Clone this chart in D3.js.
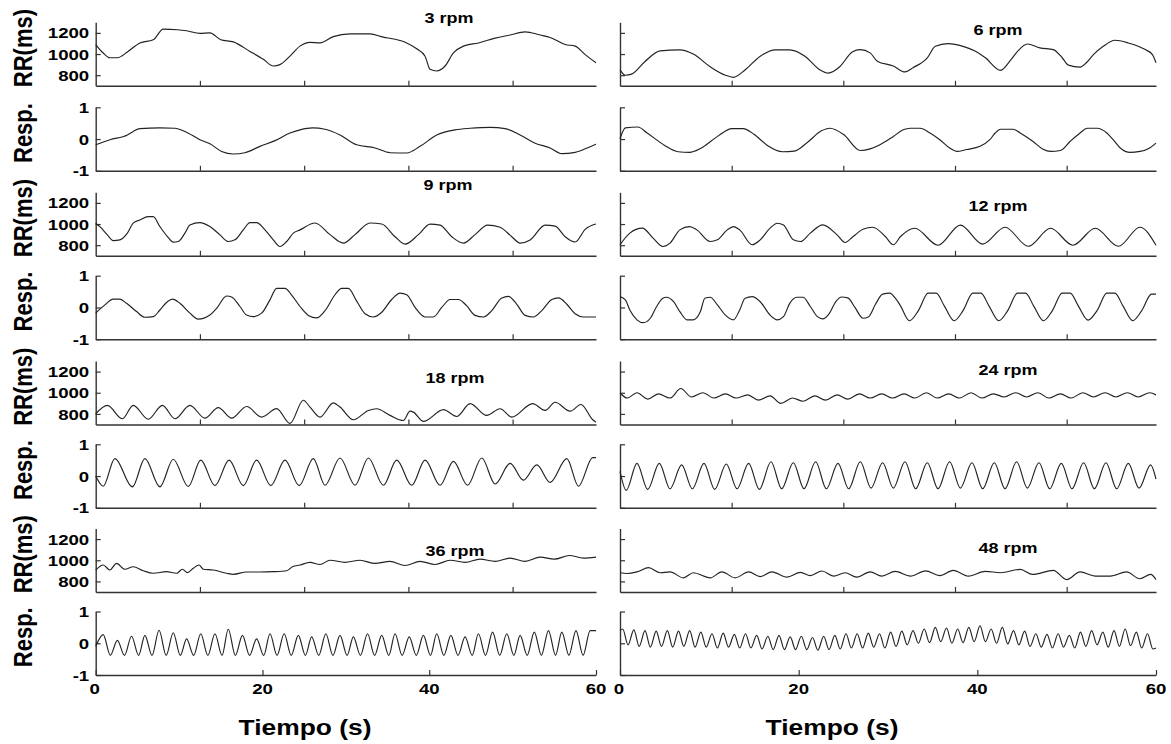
<!DOCTYPE html>
<html><head><meta charset="utf-8">
<script src="https://cdn.jsdelivr.net/npm/d3@7"></script>
<style>body{margin:0;background:#fff}svg text{font-family:"Liberation Sans",Arial,sans-serif;font-weight:bold;fill:#000}</style>
</head><body>
<svg id="c" width="1171" height="744"></svg>
<script>
// ---------- data: [time (s), value] ----------
const rr3=[[0,1090],[0.9,1010],[1.7,965],[2.6,965],[3.8,1020],[5.3,1105],[6.9,1135],[8.1,1235],[9.8,1230],[10.9,1220],[12.5,1195],[13.7,1200],[15.0,1135],[16.5,1115],[18.5,1025],[20.1,950],[21.3,887],[22.1,900],[23.3,980],[24.5,1075],[25.7,1110],[26.9,1105],[28.5,1165],[30.5,1190],[32.9,1190],[34.5,1160],[35.9,1140],[37.3,1105],[38.5,1050],[39.5,980],[40.1,856],[40.9,840],[41.9,887],[42.9,1010],[44.1,1075],[45.9,1105],[47.9,1150],[49.7,1180],[51.5,1210],[53.3,1180],[54.5,1157],[56.3,1090],[57.5,1075],[58.7,995],[60,918]];
const resp3=[[0,-0.18],[1.7,-0.02],[3.8,0.13],[4.5,0.24],[5.3,0.33],[7.7,0.35],[9.5,0.34],[10.7,0.24],[12.5,-0.02],[13.7,-0.15],[15.1,-0.39],[16.5,-0.47],[17.9,-0.43],[19.7,-0.23],[21.5,-0.05],[23.3,0.19],[24.5,0.29],[26.0,0.35],[27.5,0.31],[29.3,0.13],[31.3,-0.18],[33.5,-0.28],[35.3,-0.43],[37.3,-0.44],[38.9,-0.23],[40.9,0.13],[43.1,0.29],[44.9,0.34],[47.3,0.37],[49.1,0.33],[50.9,0.13],[52.7,-0.13],[54.5,-0.28],[55.9,-0.46],[57.5,-0.42],[59.3,-0.24],[60,-0.16]];
const rr6=[[0,850],[0.6,800],[1.3,810],[2.8,930],[4.5,1030],[6.7,1040],[8.2,1000],[10.1,880],[11.8,800],[12.7,780],[14.0,850],[15.7,980],[17.4,1040],[19.0,1040],[20.7,980],[22.4,850],[23.3,820],[24.6,880],[26.0,1020],[26.9,1042],[28.0,1011],[28.8,933],[30.6,887],[31.9,831],[32.8,871],[34.4,965],[35.3,1073],[36.7,1098],[38.4,1073],[39.8,1026],[40.9,965],[42.6,846],[43.7,940],[44.5,1026],[45.6,1095],[47.0,1058],[48.5,1042],[49.5,965],[50.2,895],[51.5,877],[52.2,918],[53.0,995],[54.1,1073],[55.4,1130],[56.9,1105],[58.8,1042],[59.6,995],[60,918]];
const resp6=[[0,0.0],[0.6,0.35],[2.0,0.38],[3.0,0.2],[5.0,-0.2],[6.5,-0.4],[7.8,-0.42],[9.0,-0.3],[11,0.1],[12.5,0.33],[13.8,0.33],[15,0.15],[16.5,-0.2],[18.2,-0.4],[19.5,-0.38],[21,-0.1],[22.5,0.25],[23.5,0.34],[25,0.15],[26.9,-0.36],[28.0,-0.31],[29.1,-0.18],[30.6,0.08],[31.7,0.29],[32.5,0.34],[33.6,0.34],[34.7,0.19],[35.8,-0.02],[36.9,-0.28],[37.7,-0.39],[38.8,-0.33],[40.3,-0.23],[41.4,-0.02],[42.0,0.19],[42.6,0.31],[44.0,0.31],[44.8,0.19],[46.2,-0.07],[47.3,-0.31],[48.2,-0.39],[49.3,-0.36],[50.4,-0.07],[51.5,0.19],[52.3,0.34],[53.4,0.34],[54.5,0.19],[55.2,-0.02],[56,-0.28],[57.1,-0.42],[58.2,-0.39],[59.3,-0.28],[60,-0.13]];
const rr9=[[0,1008],[0.5,976],[1.4,898],[2.1,844],[2.9,851],[3.8,914],[4.5,1008],[5.3,1039],[6.3,1070],[6.9,1070],[7.7,976],[8.6,882],[9.3,829],[9.9,835],[10.7,914],[11.3,992],[12.5,1014],[13.7,976],[14.9,898],[15.9,835],[16.7,851],[17.7,945],[18.5,1014],[19.3,1014],[20.3,945],[21.3,851],[22.1,788],[22.9,835],[23.7,914],[24.5,945],[26.3,1010],[28.1,900],[29.7,820],[31.1,900],[32.9,1010],[34.3,1000],[35.9,880],[37.1,810],[38.7,900],[40.1,1000],[41.3,990],[42.7,880],[44.1,820],[45.5,900],[47.0,990],[48.5,970],[49.9,880],[50.9,820],[52.1,850],[53.9,990],[55.1,980],[56.3,880],[57.5,830],[58.7,950],[60,1000]];
const resp9=[[0,-0.18],[1.1,0.08],[2.1,0.26],[2.9,0.26],[3.7,0.13],[4.9,-0.13],[5.9,-0.31],[6.9,-0.29],[7.7,-0.08],[8.6,0.18],[9.2,0.26],[10.1,0.13],[11.3,-0.18],[12.3,-0.37],[13.7,-0.24],[14.5,-0.03],[15.7,0.36],[16.3,0.33],[17.3,0.03],[18.1,-0.24],[18.9,-0.29],[19.9,-0.18],[20.9,0.24],[21.7,0.60],[22.7,0.60],[23.5,0.39],[24.5,0.03],[25.5,-0.25],[26.5,-0.33],[27.5,-0.1],[28.7,0.4],[29.5,0.6],[30.3,0.6],[31.3,0.2],[32.3,-0.2],[33.3,-0.3],[34.3,-0.15],[35.5,0.25],[36.5,0.45],[37.3,0.4],[38.3,0.0],[39.5,-0.3],[40.5,-0.3],[41.5,0],[42.5,0.25],[43.5,0.25],[44.5,0.05],[45.5,-0.25],[46.5,-0.3],[47.5,-0.1],[48.7,0.3],[49.5,0.35],[50.5,0.1],[51.5,-0.25],[52.5,-0.3],[53.5,-0.1],[54.7,0.25],[55.5,0.3],[56.5,0.1],[57.5,-0.2],[58.5,-0.3],[60,-0.3]];
const rr12=[[0,804],[1.1,914],[2.5,961],[3.7,867],[4.8,788],[5.6,820],[6.7,945],[7.8,976],[8.6,945],[10.1,835],[10.9,851],[12.0,945],[12.7,976],[13.4,945],[14.8,804],[15.7,851],[16.8,961],[17.6,1008],[18.3,992],[19.4,851],[20.2,835],[21.3,914],[22.7,992],[24.3,898],[25.2,826],[26.1,882],[27.2,951],[28.3,970],[29.7,882],[30.6,804],[31.4,882],[33.0,960],[35.6,800],[38.1,990],[40.6,810],[43.1,970],[45.7,790],[48.2,960],[50.7,800],[53.2,960],[55.8,790],[58.2,970],[60,800]];
const resp12=[[0,0.34],[0.6,0.24],[1.1,-0.08],[1.9,-0.39],[2.6,-0.48],[3.4,-0.34],[4.1,0.03],[4.8,0.29],[5.2,0.32],[6.0,0.18],[6.7,-0.13],[7.5,-0.39],[8.2,-0.39],[9.0,-0.13],[9.5,0.29],[10.1,0.32],[10.9,0.08],[11.8,-0.24],[12.7,-0.39],[13.4,-0.08],[14.0,0.29],[14.8,0.34],[15.7,0.18],[16.8,-0.24],[17.6,-0.39],[18.3,-0.29],[19.0,0.13],[19.8,0.32],[20.5,0.32],[21.3,0.03],[22.1,-0.29],[22.7,-0.36],[23.4,-0.2],[24.2,0.2],[24.8,0.33],[25.5,0.3],[26.3,0.0],[27.2,-0.34],[27.8,-0.3],[28.6,0.1],[29.4,0.42],[30.2,0.45],[30.8,0.3],[31.4,0.05],[32.4,-0.42],[33.4,-0.1],[34.5,0.45],[35.4,0.45],[36.3,0.05],[37.4,-0.42],[38.4,-0.1],[39.5,0.45],[40.4,0.45],[41.3,0.05],[42.4,-0.42],[43.4,-0.1],[44.5,0.45],[45.4,0.45],[46.3,0.05],[47.4,-0.42],[48.4,-0.1],[49.5,0.45],[50.4,0.45],[51.3,0.05],[52.4,-0.4],[53.4,-0.1],[54.5,0.45],[55.4,0.45],[56.3,0.05],[57.4,-0.42],[58.4,-0.1],[59.5,0.42],[60,0.42]];
const rr18=[[0,801],[1.4,881],[3.2,754],[4.5,881],[6.3,750],[8.0,881],[9.5,754],[11.3,881],[13.1,760],[14.7,860],[16.3,760],[18.1,870],[19.9,770],[21.7,850],[23.3,710],[24.9,929],[25.7,865],[26.9,770],[28.5,905],[29.3,865],[30.9,745],[32.7,833],[33.7,849],[35.3,786],[36.9,738],[37.7,826],[38.1,817],[39.3,729],[41.7,840],[43.3,776],[44.9,897],[46.9,786],[48.5,849],[49.9,770],[52.4,897],[53.9,833],[55.1,910],[56.9,826],[58.2,889],[59.6,745],[60,722]];
const resp18=[[0,0.0],[0.9,-0.32],[2.3,0.55],[4.4,-0.34],[5.9,0.55],[7.7,-0.34],[9.3,0.53],[11.1,-0.33],[12.6,0.5],[14.3,-0.3],[16.0,0.5],[17.7,-0.3],[19.3,0.5],[21.0,-0.3],[22.7,0.5],[24.4,-0.3],[26.1,0.55],[27.5,-0.29],[29.3,0.57],[31.1,-0.29],[32.7,0.57],[34.5,-0.29],[36.1,0.5],[37.9,-0.29],[39.5,0.5],[41.3,-0.29],[42.9,0.46],[44.6,-0.29],[46.3,0.57],[47.9,-0.25],[49.7,0.4],[51.3,-0.13],[52.9,0.35],[54.5,-0.2],[56.5,0.55],[57.9,-0.32],[59.6,0.58],[60,0.58]];
const rr24=[[0,1000],[0.8,950],[1.9,1000],[3.1,940],[4.3,990],[5.6,950],[6.8,1040],[8.0,960],[9.3,1000],[10.5,950],[11.8,990],[13.0,950],[14.3,980],[15.5,930],[16.8,970],[18.0,900],[19.3,950],[20.5,920],[21.8,970],[23.0,930],[24.3,980],[25.5,940],[26.8,990],[28.0,950],[29.3,990],[30.5,950],[31.8,990],[33.0,950],[34.3,1000],[35.5,950],[36.8,990],[38.0,950],[39.3,1000],[40.5,950],[41.8,990],[43.0,960],[44.3,1000],[45.5,960],[46.8,1000],[48.0,950],[49.3,990],[50.5,950],[51.8,1000],[53.0,960],[54.3,1000],[55.5,960],[56.8,1000],[58.0,960],[59.3,1000],[60,980]];
const resp24=[[0,0.15],[0.7,-0.45],[1.9,0.4],[3.1,-0.42],[4.4,0.4],[5.6,-0.4],[6.9,0.35],[8.1,-0.4],[9.4,0.4],[10.6,-0.42],[11.9,0.38],[13.1,-0.4],[14.4,0.4],[15.6,-0.42],[16.9,0.45],[18.1,-0.4],[19.4,0.42],[20.6,-0.4],[21.9,0.45],[23.1,-0.4],[24.4,0.4],[25.6,-0.4],[26.9,0.45],[28.1,-0.38],[29.4,0.42],[30.6,-0.38],[31.9,0.45],[33.1,-0.4],[34.4,0.42],[35.6,-0.4],[36.9,0.45],[38.1,-0.38],[39.4,0.42],[40.6,-0.4],[41.9,0.42],[43.1,-0.4],[44.4,0.45],[45.6,-0.38],[46.9,0.42],[48.1,-0.4],[49.4,0.4],[50.6,-0.4],[51.9,0.42],[53.1,-0.4],[54.4,0.42],[55.6,-0.4],[56.9,0.4],[58.1,-0.38],[59.4,0.35],[60,-0.1]];
const rr36=[[0,908],[0.9,955],[1.7,908],[2.5,971],[3.5,915],[4.5,939],[5.7,901],[6.9,877],[8.5,892],[9.7,877],[10.4,915],[11.0,883],[11.7,924],[12.4,955],[12.9,915],[14.1,908],[15.7,877],[16.5,867],[18.1,889],[19.7,889],[21.3,892],[22.9,901],[23.6,939],[24.5,955],[25.7,980],[26.9,960],[28.1,1000],[29.9,980],[31.7,1000],[33.5,970],[35.3,990],[37.1,950],[38.9,990],[40.7,960],[42.5,1000],[44.3,980],[46.1,1010],[47.9,990],[49.7,1020],[51.5,990],[53.3,1030],[55.0,1010],[56.8,1045],[58.5,1020],[60,1030]];
const resp36=[[0,-0.1],[0.9,0.27],[1.75,-0.38],[2.6,0.09],[3.45,-0.38],[4.3,0.22],[5.15,-0.38],[5.9,0.25],[6.75,-0.38],[7.6,0.41],[8.45,-0.38],[9.3,0.33],[10.15,-0.38],[10.9,0.14],[11.75,-0.38],[12.6,0.3],[13.45,-0.38],[14.3,0.3],[15.15,-0.38],[15.9,0.44],[16.75,-0.38],[17.6,0.25],[18.45,-0.38],[19.3,0.14],[20.15,-0.38],[20.9,0.3],[21.75,-0.38],[22.6,0.3],[23.45,-0.38],[24.3,0.25],[25.15,-0.38],[25.9,0.2],[26.75,-0.38],[27.6,0.3],[28.45,-0.38],[29.3,0.25],[30.15,-0.38],[30.9,0.2],[31.75,-0.38],[32.6,0.3],[33.45,-0.38],[34.3,0.25],[35.15,-0.38],[35.9,0.3],[36.75,-0.38],[37.6,0.2],[38.45,-0.38],[39.3,0.25],[40.15,-0.38],[40.9,0.3],[41.75,-0.38],[42.6,0.25],[43.45,-0.38],[44.3,0.2],[45.15,-0.38],[45.9,0.3],[46.75,-0.38],[47.6,0.35],[48.45,-0.38],[49.3,0.3],[50.15,-0.38],[50.9,0.25],[51.75,-0.38],[52.6,0.35],[53.45,-0.38],[54.3,0.4],[55.15,-0.38],[55.9,0.35],[56.75,-0.38],[57.6,0.4],[58.45,-0.38],[59.3,0.4],[60,0.4]];
const rr48=[[0,882],[0.75,875],[1.9,890],[3.2,930],[4.5,882],[5.6,890],[7.1,834],[8.2,882],[10.1,834],[11.4,890],[12.9,834],[14.4,890],[15.7,845],[17.0,890],[18.7,840],[20.2,885],[21.3,855],[22.6,898],[23.9,850],[25.2,882],[26.5,840],[28,890],[29.3,850],[30.8,895],[32.5,850],[34.2,900],[35.8,855],[37.3,905],[39.0,850],[40.9,895],[42.6,882],[44.8,914],[46.2,866],[48.5,905],[50.0,817],[51.5,890],[53.2,850],[54.9,850],[56.7,890],[58.2,825],[59.4,866],[60,817]];
const resp48=[[0,0.4],[0.3,0.45],[0.9,-0.05],[1.55,0.42],[2.15,-0.1],[2.8,0.4],[3.4,-0.12],[4.05,0.38],[4.65,-0.1],[5.3,0.4],[5.9,-0.12],[6.55,0.38],[7.15,-0.1],[7.8,0.4],[8.4,-0.12],[9.05,0.35],[9.65,-0.12],[10.3,0.3],[10.9,-0.15],[11.55,0.32],[12.15,-0.12],[12.8,0.28],[13.4,-0.15],[14.05,0.3],[14.65,-0.15],[15.3,0.25],[15.9,-0.18],[16.55,0.22],[17.15,-0.2],[17.8,0.25],[18.4,-0.2],[19.05,0.2],[19.65,-0.2],[20.3,0.22],[20.9,-0.2],[21.55,0.18],[22.15,-0.22],[22.8,0.22],[23.4,-0.2],[24.05,0.25],[24.65,-0.18],[25.3,0.3],[25.9,-0.15],[26.55,0.3],[27.15,-0.15],[27.8,0.32],[28.4,-0.12],[29.05,0.3],[29.65,-0.15],[30.3,0.35],[30.9,-0.1],[31.55,0.38],[32.15,-0.05],[32.8,0.4],[33.4,0.0],[34.05,0.45],[34.65,0.02],[35.3,0.5],[35.9,0.05],[36.55,0.48],[37.15,0.0],[37.8,0.45],[38.4,0.02],[39.05,0.5],[39.65,0.05],[40.3,0.55],[40.9,0.05],[41.55,0.45],[42.15,0.0],[42.8,0.5],[43.4,-0.02],[44.05,0.4],[44.65,-0.05],[45.3,0.38],[45.9,-0.1],[46.55,0.3],[47.15,-0.12],[47.8,0.28],[48.4,-0.15],[49.05,0.3],[49.65,-0.12],[50.3,0.25],[50.9,-0.15],[51.55,0.35],[52.15,-0.1],[52.8,0.4],[53.4,-0.05],[54.05,0.35],[54.65,-0.12],[55.3,0.4],[55.9,-0.1],[56.55,0.45],[57.15,-0.08],[57.8,0.35],[58.4,-0.15],[59.05,0.3],[59.65,-0.18],[60,-0.15]];

const rrTicks=[800,1000,1200];
const respTicks=[-1,0,1];
const xTicksBottom=[0,20,40,60];
const xTicksInner=[12.5,25,37.5,50];
const titlesLeft=["3 rpm","9 rpm","18 rpm","36 rpm"];
const titlesRight=["6 rpm","12 rpm","24 rpm","48 rpm"];
const yLabels=["RR(ms)","Resp."];
const xLabel="Tiempo (s)";

// ---------- layout ----------
const colX=[[95.7,596],[620,1156]];
const rowTop=[22.3,107.3,192.3,275.7,361,444.3,528.5,611.5];
const panelH=63.5;
const titlePos=[[[449,23],[448,190],[455,383],[455,556]],[[998,35],[998,211],[1008,375],[1008,553]]];
const SX=1.2; // horizontal stretch of the original text

const svg=d3.select("#c");
const series=[[rr3,resp3,rr9,resp9,rr18,resp18,rr36,resp36],[rr6,resp6,rr12,resp12,rr24,resp24,rr48,resp48]];

function stext(g,x,y,txt,size,anchor,rot){
  return g.append("text").attr("font-size",size).attr("text-anchor",anchor||"middle")
    .attr("transform",`translate(${x},${y}) scale(${SX},1)`+(rot?` rotate(${rot})`:""))
    .text(txt);
}

for(let c=0;c<2;c++){
  for(let r=0;r<8;r++){
    const isRR=r%2===0;
    const top=rowTop[r], bot=top+panelH;
    const x=d3.scaleLinear().domain([0,60]).range(colX[c]);
    const y=d3.scaleLinear().domain(isRR?[700,1300]:[-1,1]).range([bot,top]);
    const g=svg.append("g");
    const last=(r===7);
    const xa=d3.axisBottom(x).tickValues(last?xTicksBottom:xTicksInner).tickSizeInner(-5).tickSizeOuter(0).tickFormat("");
    const gx=g.append("g").attr("transform",`translate(0,${bot})`).call(xa);
    const ya=d3.axisLeft(y).tickValues(isRR?rrTicks:respTicks).tickSizeInner(-5).tickSizeOuter(0).tickFormat("");
    const gy=g.append("g").attr("transform",`translate(${colX[c][0]},0)`).call(ya);
    [gx,gy].forEach(a=>{a.select(".domain").attr("stroke","#333").attr("stroke-width",1.4);
      a.selectAll(".tick line").attr("stroke","#333").attr("stroke-width",1.2);});
    if(c===0){
      (isRR?rrTicks:respTicks).forEach(v=>{
        stext(g,colX[c][0]-6.5,y(v)+5.6,String(v),15.5,"end");
      });
    }
    if(last){
      xTicksBottom.forEach(v=>{
        stext(g,x(v)+(v===0?-1:0),694,String(v),15.5,"middle");
      });
    }
    const line=d3.line().x(d=>x(d[0])).y(d=>y(d[1])).curve(d3.curveMonotoneX);
    g.append("path").datum(series[c][r]).attr("d",line).attr("fill","none")
      .attr("stroke","#222").attr("stroke-width",1.15).attr("stroke-linejoin","round");
    if(c===0){
      stext(g,31.5,top+panelH/2-6,yLabels[r%2],22,"middle",-90);
    }
  }
  const titles=c===0?titlesLeft:titlesRight;
  titles.forEach((t,i)=>stext(svg,titlePos[c][i][0],titlePos[c][i][1],t,15,"middle"));
}
stext(svg,305,734.5,xLabel,22,"middle");
stext(svg,832,734.5,xLabel,22,"middle");
</script>
</body></html>
